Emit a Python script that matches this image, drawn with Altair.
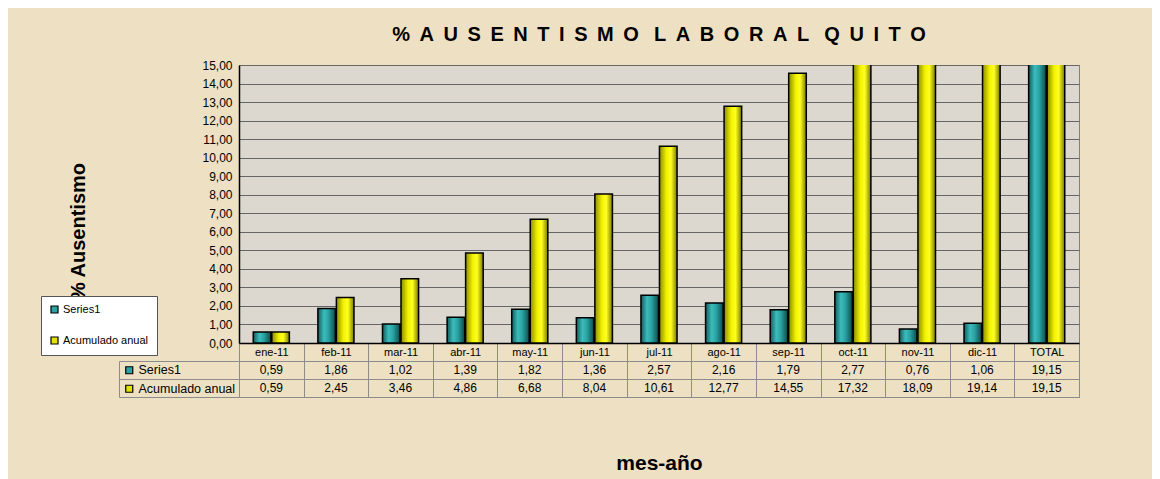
import altair as alt
import pandas as pd

FONT = "Liberation Sans"

categories = ["ene-11", "feb-11", "mar-11", "abr-11", "may-11", "jun-11", "jul-11",
              "ago-11", "sep-11", "oct-11", "nov-11", "dic-11", "TOTAL"]
series1 = [0.59, 1.86, 1.02, 1.39, 1.82, 1.36, 2.57, 2.16, 1.79, 2.77, 0.76, 1.06, 19.15]
acumulado = [0.59, 2.45, 3.46, 4.86, 6.68, 8.04, 10.61, 12.77, 14.55, 17.32, 18.09, 19.14, 19.15]
series_names = ["Series1", "Acumulado anual"]
series_colors = ["#2aa3a3", "#e2e200"]
y_ticks = list(range(0, 16))

rows = []
for c, a, b in zip(categories, series1, acumulado):
    rows.append({"mes": c, "serie": "Series1", "valor": a})
    rows.append({"mes": c, "serie": "Acumulado anual", "valor": b})
df = pd.DataFrame(rows)
df["label"] = df["valor"].map(lambda v: f"{v:.2f}".replace(".", ","))

NB = "\u00a0"
TH = "\u2009"
gap = NB + TH
words = ["%AUSENTISMO", "LABORAL", "QUITO"]
title_text = (NB * 2 + TH).join(gap.join(list(w)) for w in words)

teal_grad = {"gradient": "linear", "x1": 0, "y1": 0, "x2": 1, "y2": 0,
             "stops": [{"offset": 0, "color": "#135c5c"},
                       {"offset": 0.35, "color": "#3cbcbc"},
                       {"offset": 0.6, "color": "#2aa2a2"},
                       {"offset": 1, "color": "#0e4a4a"}]}
yellow_grad = {"gradient": "linear", "x1": 0, "y1": 0, "x2": 1, "y2": 0,
               "stops": [{"offset": 0, "color": "#8c8c00"},
                         {"offset": 0.4, "color": "#f2f200"},
                         {"offset": 0.65, "color": "#ffff20"},
                         {"offset": 1, "color": "#7a7a00"}]}

W, H = 840, 278

x_bar = alt.X("mes:N", sort=categories,
              scale=alt.Scale(domain=categories, paddingInner=0, paddingOuter=0),
              axis=alt.Axis(title=None, labelAngle=0, labelFontSize=11, labelColor="black",
                            labelBaseline="middle", labelPadding=-9,
                            tickBand="extent", tickSize=18, tickColor="#8c8c8c",
                            domainColor="black", domainWidth=1.5, grid=False))

y_bar = alt.Y("valor:Q", scale=alt.Scale(domain=[0, 15], nice=False),
              axis=alt.Axis(values=y_ticks, tickCount=16,
                            labelExpr="replace(format(datum.value, '.2f'), '.', ',')",
                            ticks=False, labelFontSize=12, labelColor="black", labelPadding=7,
                            labelOverlap=False,
                            domainColor="black", domainWidth=1.5,
                            gridColor="#666666", gridWidth=1,
                            title="% Ausentismo", titleFontSize=20, titleFontWeight="bold",
                            titleColor="black", titleX=-155, titleY=166,
                            titleBaseline="alphabetic", titleAlign="center"))

bars = alt.Chart(df).mark_bar(stroke="black", strokeWidth=1.5, clip=True).encode(
    x=x_bar,
    xOffset=alt.XOffset("serie:N", sort=series_names,
                        scale=alt.Scale(domain=series_names, paddingInner=0.05, paddingOuter=0.77)),
    y=y_bar,
    fill=alt.condition(alt.datum.serie == "Series1", alt.value(teal_grad), alt.value(yellow_grad)),
)

legend_marks = alt.Chart(df).mark_square(opacity=0, stroke="black", clip=True).encode(
    x=x_bar,
    y=y_bar,
    color=alt.Color("serie:N", sort=series_names,
                    scale=alt.Scale(domain=series_names, range=series_colors),
                    legend=alt.Legend(title=None, orient="none", legendX=-198, legendY=231,
                                      fillColor="white", strokeColor="#555555", padding=8,
                                      rowPadding=18, labelFontSize=11, labelColor="black",
                                      symbolType="square", symbolSize=49,
                                      symbolStrokeColor="black", symbolStrokeWidth=1.2,
                                      symbolOpacity=1, labelOffset=3)),
)

top = alt.layer(bars, legend_marks).properties(
    width=W, height=H,
    title=alt.TitleParams(text=title_text, fontSize=20, fontWeight="bold", font=FONT,
                          anchor="middle", frame="group", offset=14, color="black"),
    view=alt.ViewBackground(fill="#dcd8d0", stroke="#808080"),
)

x_tab = alt.X("mes:N", sort=categories,
              scale=alt.Scale(domain=categories, paddingInner=0, paddingOuter=0),
              axis=alt.Axis(title="mes-año", labels=False, ticks=False, domain=False,
                            grid=True, tickBand="extent", gridColor="#8c8c8c",
                            titleFontSize=21, titleFontWeight="bold", titleColor="black",
                            titlePadding=55))

y_tab = alt.Y("serie:N", sort=series_names,
              scale=alt.Scale(domain=series_names, paddingInner=0, paddingOuter=0),
              axis=alt.Axis(title=None, labels=False, domain=False, ticks=True, tickSize=120,
                            tickBand="extent", tickColor="#8c8c8c", grid=True,
                            gridColor="#8c8c8c"))

table_text = alt.Chart(df).mark_text(fontSize=12, color="black", font=FONT).encode(
    x=x_tab, y=y_tab, text="label:N")

table_legend = alt.Chart(df).mark_square(opacity=0, stroke="black").encode(
    x=alt.X("mes:N", sort=categories),
    y=alt.Y("serie:N", sort=series_names,
            axis=alt.Axis(orient="left", offset=120, title=None, labels=False, ticks=False,
                          grid=False, domain=True, domainColor="#8c8c8c")),
    fill=alt.Fill("serie:N", sort=series_names,
                  scale=alt.Scale(domain=series_names, range=series_colors),
                  legend=alt.Legend(title=None, orient="none", legendX=-119, legendY=0,
                                    padding=3, rowPadding=5.5, labelFontSize=12.5,
                                    labelColor="black", symbolType="square", symbolSize=49,
                                    symbolStrokeColor="black", symbolStrokeWidth=1.2,
                                    symbolOpacity=1, labelOffset=3)),
)

bottom = alt.layer(table_text, table_legend).resolve_axis(y="independent").properties(
    width=W, height=36,
    view=alt.ViewBackground(fill=None, stroke="#8c8c8c"),
)

chart = alt.vconcat(top, bottom, spacing=18, bounds="flush").resolve_scale(
    color="independent", fill="independent"
).resolve_legend(color="independent", fill="independent").properties(
    background="#eee0c2",
    padding={"left": 32, "top": 16, "right": 72, "bottom": 6},
).configure(font=FONT)

chart.save("out.html", embed_options={"renderer": "svg", "actions": False})
